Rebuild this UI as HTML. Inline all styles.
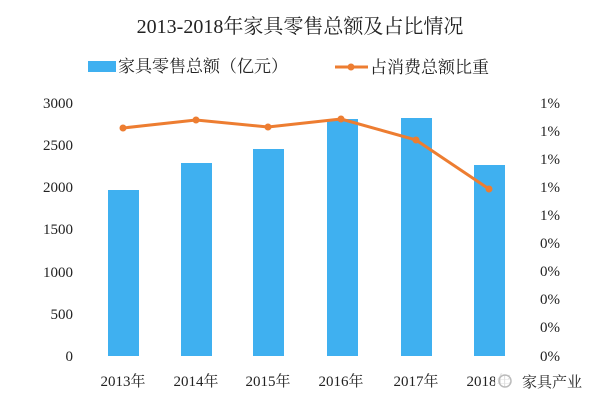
<!DOCTYPE html>
<html><head><meta charset="utf-8"><style>
body{margin:0;background:#fff;width:600px;height:409px;overflow:hidden}
text{font-family:"Liberation Serif","Noto Serif CJK SC",serif;fill:#222}
</style></head><body>
<svg width="600" height="409" xmlns="http://www.w3.org/2000/svg">
<text x="300" y="33" font-size="20" text-anchor="middle" fill="#333">2013-2018年家具零售总额及占比情况</text>
<rect x="88" y="61" width="28" height="11" fill="#3fb0f0"/>
<text x="118" y="72" font-size="17" font-family="Liberation Sans,Noto Sans CJK SC,sans-serif">家具零售总额（亿元）</text>
<line x1="335" y1="67" x2="368" y2="67" stroke="#ed7d31" stroke-width="3"/>
<circle cx="351" cy="67" r="3.5" fill="#ed7d31"/>
<text x="370" y="73" font-size="17" font-family="Liberation Sans,Noto Sans CJK SC,sans-serif">占消费总额比重</text>
<g font-size="15" text-anchor="end">
<text x="73" y="108">3000</text><text x="73" y="150">2500</text><text x="73" y="192">2000</text>
<text x="73" y="234">1500</text><text x="73" y="277">1000</text><text x="73" y="319">500</text><text x="73" y="361">0</text>
</g>
<g font-size="15">
<text x="540" y="108">1%</text><text x="540" y="136">1%</text><text x="540" y="164">1%</text><text x="540" y="192">1%</text><text x="540" y="220">1%</text>
<text x="540" y="248">0%</text><text x="540" y="276">0%</text><text x="540" y="304">0%</text><text x="540" y="332">0%</text><text x="540" y="361">0%</text>
</g>
<g fill="#3fb0f0">
<rect x="108" y="190" width="31" height="166"/>
<rect x="181" y="163" width="31" height="193"/>
<rect x="253" y="149" width="31" height="207"/>
<rect x="327" y="119" width="31" height="237"/>
<rect x="401" y="118" width="31" height="238"/>
<rect x="474" y="165" width="31" height="191"/>
</g>
<polyline points="123,128 196,120 268,127 341,119 416,140 489,189" fill="none" stroke="#ed7d31" stroke-width="3" stroke-linejoin="round"/>
<g fill="#ed7d31">
<circle cx="123" cy="128" r="3.5"/><circle cx="196" cy="120" r="3.5"/><circle cx="268" cy="127" r="3.5"/>
<circle cx="341" cy="119" r="3.5"/><circle cx="416" cy="140" r="3.5"/><circle cx="489" cy="189" r="3.5"/>
</g>
<g font-size="15" text-anchor="middle">
<text x="123" y="386">2013年</text><text x="196" y="386">2014年</text><text x="268" y="386">2015年</text>
<text x="341" y="386">2016年</text><text x="416" y="386">2017年</text><text x="489" y="386">2018年</text>
</g>
<rect x="495" y="370" width="105" height="25" fill="#fff" opacity="0.85"/>
<circle cx="505" cy="381" r="6" fill="none" stroke="#bbb" stroke-width="1.5"/>
<text x="522" y="387" font-size="15" fill="#777" font-family="Liberation Sans,Noto Sans CJK SC,sans-serif">家具产业</text>
</svg>
</body></html>
